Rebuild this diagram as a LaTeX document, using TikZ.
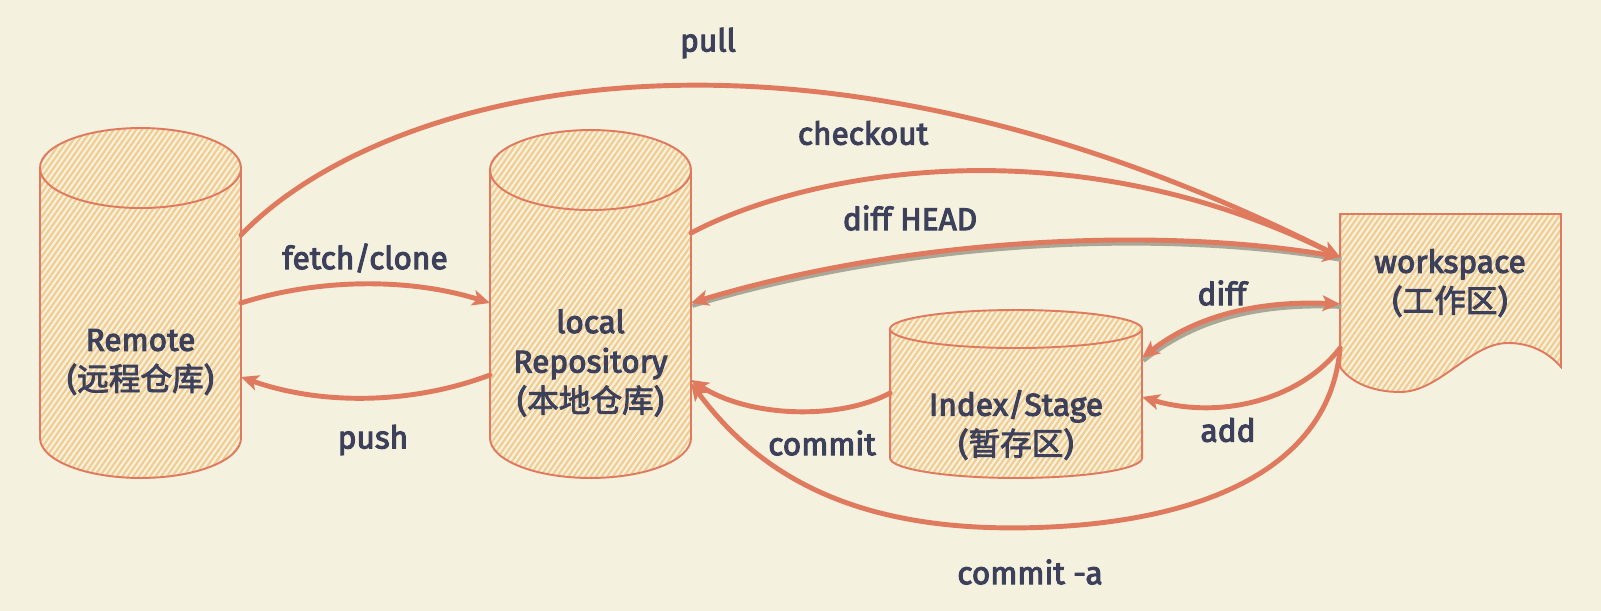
\documentclass[tikz,border=0pt]{standalone}
\usepackage{fontspec}
\setmainfont{Fira Sans}[FakeBold=3.2]
\newfontfamily\cjk{Noto Sans CJK SC}[FakeBold=2.6]
\usetikzlibrary{arrows.meta,patterns.meta}

\definecolor{paper}{HTML}{F4F1DE}
\definecolor{rust}{HTML}{E07A5F}
\definecolor{ink}{HTML}{3D405B}
\definecolor{sand}{HTML}{F2CC8F}
\definecolor{shade}{HTML}{A9A797}

\tikzstyle{box}=[inner sep=0, outer sep=0]
\tikzstyle{sheet}=[draw=rust, line width=1.1pt, preaction={fill=paper}, pattern color=sand,
                   pattern={Lines[angle=55,distance=2.6pt,line width=1.2pt]}]
\tikzstyle{rim}=[draw=rust, line width=1.1pt]
\tikzstyle{txt}=[text=ink, font=\fontsize{18}{22.5}\selectfont, align=center]
\tikzstyle{flow}=[draw=rust, line width=2.8pt, line cap=round,
                  >={Stealth[length=10pt,width=9pt,inset=2.5pt]}]
\tikzstyle{shadowed}=[preaction={-, draw=shade, line width=2.4pt,
                      transform canvas={shift={(0.8pt,-1.6pt)}}}]

\begin{document}
\begin{tikzpicture}[x=0.02cm, y=-0.02cm]
\fill[paper] (0,0) rectangle (1601,611);
\useasboundingbox (0,0) rectangle (1601,611);

% stores
\node[box, minimum width=4.02cm, minimum height=7cm] (remote) at (140.5,303) {};
\node[box, minimum width=4.02cm, minimum height=6.96cm] (repo) at (590.5,304) {};
\node[box, minimum width=5.04cm, minimum height=3.36cm] (stage) at (1016,394) {};
\node[box, minimum width=4.42cm, minimum height=3.06cm] (work) at (1450.5,290.5) {};

\path[sheet] ([yshift=-0.8cm]remote.north west) -- ([yshift=0.8cm]remote.south west)
  arc (180:0:100.5 and 40) -- ([yshift=-0.8cm]remote.north east) arc (0:-180:100.5 and 40) -- cycle;
\draw[rim] ([yshift=-0.8cm]remote.north west) arc (180:0:100.5 and 40);
\path[sheet] ([yshift=-0.8cm]repo.north west) -- ([yshift=0.8cm]repo.south west)
  arc (180:0:100.5 and 40) -- ([yshift=-0.8cm]repo.north east) arc (0:-180:100.5 and 40) -- cycle;
\draw[rim] ([yshift=-0.8cm]repo.north west) arc (180:0:100.5 and 40);
\path[sheet] ([yshift=-0.38cm]stage.north west) -- ([yshift=0.4cm]stage.south west)
  arc (180:0:126 and 20) -- ([yshift=-0.38cm]stage.north east) arc (0:-180:126 and 19) -- cycle;
\draw[rim] ([yshift=-0.38cm]stage.north west) arc (180:0:126 and 19);
\path[sheet] (work.north west) -- (work.north east) -- (work.south east)
  .. controls (1548,352) and (1530,343) .. (1508,343)
  .. controls (1470,343) and (1440,392) .. (1400,392)
  .. controls (1372,392) and (1350,382) .. (work.south west) -- cycle;

\node[txt] (remotelbl) at (140.5,362) {Remote\\({\cjk 远程仓库})};
\node[txt] (repolbl) at (590.5,363) {local\\Repository\\({\cjk 本地仓库})};
\node[txt] (stagelbl) at (1016,425) {Index/Stage\\({\cjk 暂存区})};
\node[txt] (worklbl) at (1450,283) {workspace\\({\cjk 工作区})};

% commands
\draw[flow,->] (remote.east |- 0,235) .. controls (380,90) and (790,-20) .. (work.west |- 0,257);
\draw[flow,->] (repo.east |- 0,233) .. controls (800,175) and (1060,120) .. (work.west |- 0,257);
\draw[flow,shadowed,<->] (repo.east |- 0,303) .. controls (900,240) and (1150,225) .. (work.west |- 0,257);
\draw[flow,->] (remote.east |- 0,303) .. controls (320,278) and (410,278) .. (repo.west |- 0,303);
\draw[flow,->] (repo.west |- 0,375) .. controls (410,405) and (320,405) .. (remote.east |- 0,377);
\draw[flow,->] (stage.west |- 0,393) .. controls (840,420) and (750,418) .. (repo.east |- 0,380);
\draw[flow,->] (work.west |- 0,348) .. controls (1330,470) and (1200,520) .. (1050,527)
  .. controls (880,535) and (770,490) .. (repo.east |- 0,383);
\draw[flow,shadowed,<->] (work.west |- 0,304) .. controls (1250,300) and (1190,320) .. (stage.east |- 0,358);
\draw[flow,->] (work.west |- 0,348) .. controls (1300,400) and (1220,420) .. (stage.east |- 0,397);

\node[txt] (pulllbl) at (708,43) {pull};
\node[txt] (checkoutlbl) at (863,133) {checkout};
\node[txt] (headlbl) at (910,218) {diff HEAD};
\node[txt] (fetchlbl) at (365,258) {fetch/clone};
\node[txt] (pushlbl) at (373,440) {push};
\node[txt] (commitlbl) at (822,443) {commit};
\node[txt] (difflbl) at (1222,293) {diff};
\node[txt] (addlbl) at (1228,430) {add};
\node[txt] (commitalbl) at (1030,572) {commit -a};
\end{tikzpicture}
\end{document}
